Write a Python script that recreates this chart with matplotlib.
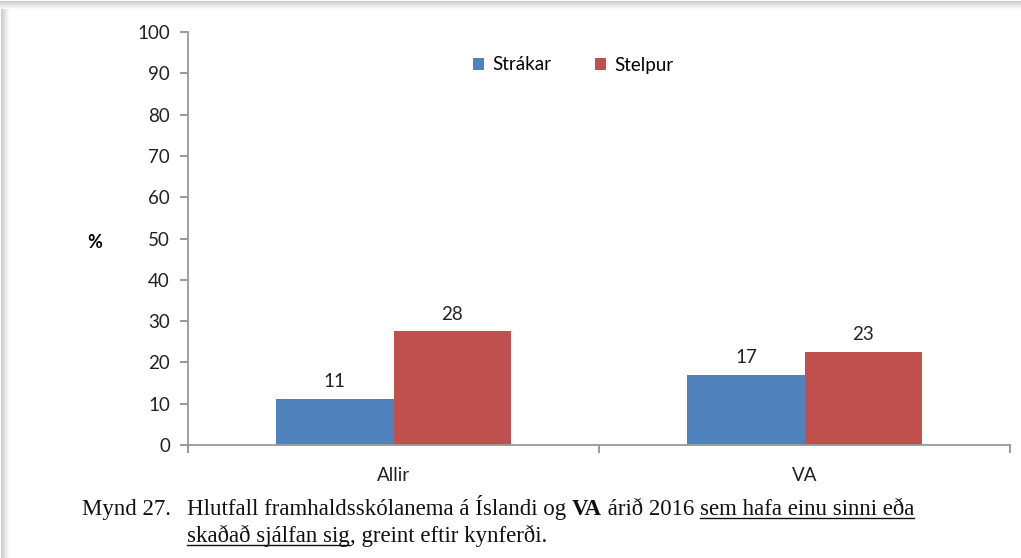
import matplotlib
matplotlib.use("Agg")
import matplotlib.pyplot as plt
import numpy as np

categories = ["Allir", "VA"]
series = ["Strákar", "Stelpur"]
strakar = [11.2, 17.0]
stelpur = [27.6, 22.6]
colors = ["#4F81BD", "#C0504D"]
yticks = [0, 10, 20, 30, 40, 50, 60, 70, 80, 90, 100]

plt.rcParams['font.family'] = ['Lato', 'DejaVu Sans']

W, H = 1021, 558
fig = plt.figure(figsize=(W / 100, H / 100), dpi=100)
fig.patch.set_facecolor("white")

# screenshot frame shadow (top and left)
for i in range(8):
    g = 0.80 + 0.025 * i
    fig.add_artist(plt.Line2D([0, 1], [1 - (i + 0.5) / H] * 2, color=(g, g, g), lw=0.8,
                              transform=fig.transFigure))
    fig.add_artist(plt.Line2D([(i + 0.5) / W] * 2, [0, 1 - 8 / H], color=(g, g, g), lw=0.8,
                              transform=fig.transFigure))

ax = fig.add_axes([188 / W, 113 / H, 822 / W, 413 / H])
x = np.arange(len(categories))
bw = 0.285
b1 = ax.bar(x - bw / 2, strakar, bw, color=colors[0], label=series[0])
b2 = ax.bar(x + bw / 2, stelpur, bw, color=colors[1], label=series[1])
for bars, vals in [(b1, strakar), (b2, stelpur)]:
    for r, v in zip(bars, vals):
        ax.annotate(f"{v:.0f}", (r.get_x() + r.get_width() / 2, v), xytext=(0, 6),
                    textcoords="offset points", ha="center", va="bottom",
                    fontsize=13.5, color="#222222")

ax.set_xlim(-0.5, len(categories) - 0.5)
ax.set_ylim(0, 100)
ax.set_yticks(yticks)
ax.set_xticks(x)
ax.set_xticklabels(categories)
ax.set_xticks(np.arange(len(categories) + 1) - 0.5, minor=True)
ax.tick_params(axis="x", which="major", length=0, pad=16, labelsize=13.5, colors="#222222")
ax.tick_params(axis="x", which="minor", length=6, color="#888888", width=1.2)
ax.tick_params(axis="y", length=6, color="#888888", width=1.2, pad=7, labelsize=13.5,
               labelcolor="#222222")
for s in ["top", "right"]:
    ax.spines[s].set_visible(False)
for s in ["left", "bottom"]:
    ax.spines[s].set_color("#999999")
    ax.spines[s].set_linewidth(1.3)

fig.text(95 / W, 1 - 242 / H, "%", fontsize=13, fontweight="bold", ha="center", va="center")

fig.legend(handles=[b1, b2], loc="center", bbox_to_anchor=(573 / W, 1 - 65 / H), ncol=2,
           frameon=False, fontsize=13.5, handlelength=0.6, handleheight=0.6,
           columnspacing=2.3, handletextpad=0.45)

# caption with bold and underlined parts
fig.canvas.draw()
renderer = fig.canvas.get_renderer()
cap_font = dict(family="Liberation Serif", fontsize=16.5, color="#111111")


def line(pieces, x0, y0):
    xp = x0
    for txt, bold, ul in pieces:
        t = fig.text(xp / W, 1 - y0 / H, txt, va="baseline", ha="left",
                     fontweight="bold" if bold else "normal", **cap_font)
        bb = t.get_window_extent(renderer)
        if ul:
            fig.add_artist(plt.Line2D([xp / W, (xp + bb.width) / W],
                                      [1 - (y0 + 3) / H] * 2, color="#111111", lw=1.0,
                                      transform=fig.transFigure))
        xp += bb.width


fig.text(82 / W, 1 - 515 / H, "Mynd 27.", va="baseline", ha="left", **cap_font)
line([("Hlutfall framhaldsskólanema á Íslandi og ", False, False), ("VA", True, False),
      (" árið 2016 ", False, False), ("sem hafa einu sinni eða", False, True)], 187, 515)
line([("skaðað sjálfan sig", False, True), (", greint eftir kynferði.", False, False)], 187, 542)

fig.savefig("out.png", dpi=100)
